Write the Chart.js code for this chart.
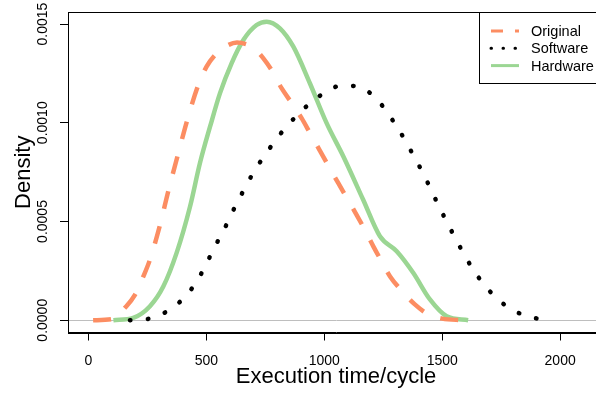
<!DOCTYPE html>
<html>
<head>
<meta charset="utf-8">
<script src="https://cdn.jsdelivr.net/npm/chart.js@4.4.1/dist/chart.umd.min.js"></script>
<style>
  html, body { margin: 0; padding: 0; background: #fff; overflow: hidden; }
  #wrap { width: 596px; height: 394px; overflow: hidden; }
</style>
</head>
<body>
<div id="wrap"><canvas id="density" width="610" height="394"></canvas></div>
<script>
const seriesNames = ['Original', 'Software', 'Hardware'];

// execution time (cycles) and density
const originalX = [20, 106, 155, 198, 233, 261, 304, 339, 381, 417, 466, 501, 537, 580, 630, 671, 700, 741, 780, 819,
  862, 904, 943, 982, 1020, 1059, 1098, 1137, 1173, 1208, 1243, 1279, 1328, 1384, 1441, 1500, 1589];
const originalY = [0, 0.000007, 0.000063, 0.000130, 0.000222, 0.000307, 0.000484, 0.000655, 0.000845, 0.001005,
  0.001192, 0.001284, 0.001343, 0.001385, 0.001406, 0.001397, 0.001380, 0.001327, 0.001260, 0.001175,
  0.001100, 0.001023, 0.000940, 0.000858, 0.000777, 0.000695, 0.000615, 0.000534, 0.000455, 0.000374,
  0.000298, 0.000222, 0.000150, 0.000080, 0.000030, 0.000008, 0];

const softwareX = [176, 254, 326, 388, 440, 482, 517, 552, 588, 621, 657, 694, 736, 781, 828, 881, 938, 1000, 1072, 1148,
  1212, 1263, 1305, 1346, 1383, 1420, 1454, 1487, 1523, 1558, 1595, 1636, 1682, 1736, 1797, 1869, 1945];
const softwareY = [0, 0.000007, 0.000040, 0.000093, 0.000163, 0.000243, 0.000326, 0.000408, 0.000490, 0.000573,
  0.000655, 0.000736, 0.000815, 0.000891, 0.000964, 0.001033, 0.001097, 0.001151, 0.001188, 0.001183,
  0.001131, 0.001060, 0.000984, 0.000905, 0.000823, 0.000742, 0.000657, 0.000575, 0.000490, 0.000410,
  0.000329, 0.000248, 0.000174, 0.000106, 0.000053, 0.000017, 0.000002];

const hardwareX = [106, 190, 261, 318, 374, 431, 473, 516, 558, 607, 657, 713, 756, 812, 869, 939, 1010, 1081, 1165, 1236,
  1307, 1377, 1448, 1519, 1610];
const hardwareY = [0, 0.000012, 0.000071, 0.000172, 0.000341, 0.000576, 0.000796, 0.000981, 0.001150, 0.001301,
  0.001419, 0.001495, 0.001512, 0.001478, 0.001385, 0.001200, 0.000998, 0.000829, 0.000610, 0.000425,
  0.000349, 0.000240, 0.000105, 0.000020, 0];

const xTicks = [0, 500, 1000, 1500, 2000];
const xTickLabels = ['0', '500', '1000', '1500', '2000'];
const yTicks = [0, 0.0005, 0.0010, 0.0015];
const yTickLabels = ['0.0000', '0.0005', '0.0010', '0.0015'];

const toPoints = (xs, ys) => xs.map((x, i) => ({ x: x, y: ys[i] }));

Chart.defaults.font.family = '"Liberation Sans", Arial, sans-serif';
Chart.defaults.color = '#000';

// R style box plus the legend in the top right corner
const boxAndLegend = {
  id: 'boxAndLegend',
  afterDraw(chart) {
    const { ctx, chartArea } = chart;
    ctx.save();
    ctx.strokeStyle = '#000';
    ctx.lineWidth = 1;
    ctx.setLineDash([]);
    ctx.strokeRect(Math.round(chartArea.left) + 0.5, Math.round(chartArea.top) + 0.5,
      Math.round(chartArea.right - chartArea.left), Math.round(chartArea.bottom - chartArea.top));

    const right = Math.round(chartArea.right);
    const top = Math.round(chartArea.top);
    const left = right - 125;
    ctx.fillStyle = '#fff';
    ctx.fillRect(left, top, 125, 71);
    ctx.strokeRect(left + 0.5, top + 0.5, 125, 71);

    const legendDash = [[12, 12], [0.5, 11.5], []];
    const legendCap = ['butt', 'round', 'butt'];
    chart.data.datasets.forEach((ds, i) => {
      const y = top + 19 + i * 17.3;
      ctx.beginPath();
      ctx.setLineDash(legendDash[i]);
      ctx.lineCap = legendCap[i];
      ctx.lineWidth = 3;
      ctx.strokeStyle = ds.borderColor;
      ctx.moveTo(left + 12, y);
      ctx.lineTo(left + 40, y);
      ctx.stroke();
      ctx.setLineDash([]);
      ctx.fillStyle = '#000';
      ctx.font = '14.5px "Liberation Sans", Arial, sans-serif';
      ctx.textBaseline = 'alphabetic';
      ctx.textAlign = 'left';
      ctx.fillText(ds.label, left + 52, y + 5);
    });
    ctx.restore();
  }
};

const chart = new Chart(document.getElementById('density'), {
  type: 'line',
  data: {
    datasets: [
      {
        label: seriesNames[0],
        data: toPoints(originalX, originalY),
        borderColor: '#FC8D62',
        borderWidth: 4.5,
        borderDash: [18, 18],
        pointRadius: 0,
        cubicInterpolationMode: 'monotone',
        fill: false
      },
      {
        label: seriesNames[1],
        data: toPoints(softwareX, softwareY),
        borderColor: '#000000',
        borderWidth: 4.5,
        borderDash: [0.5, 17.5],
        borderCapStyle: 'round',
        pointRadius: 0,
        cubicInterpolationMode: 'monotone',
        fill: false
      },
      {
        label: seriesNames[2],
        data: toPoints(hardwareX, hardwareY),
        borderColor: '#9BD693',
        borderWidth: 4.5,
        pointRadius: 0,
        cubicInterpolationMode: 'monotone',
        fill: false
      }
    ]
  },
  options: {
    responsive: false,
    animation: false,
    devicePixelRatio: 1,
    layout: {
      padding: { top: 12, right: 6, left: 0, bottom: 0 }
    },
    scales: {
      x: {
        type: 'linear',
        min: -86.5,
        max: 2186,
        afterFit: (scale) => { scale.height = 61.5; },
        afterBuildTicks: (scale) => { scale.ticks = xTicks.map((v) => ({ value: v })); },
        ticks: {
          font: { size: 14 },
          padding: 12,
          maxRotation: 0,
          autoSkip: false,
          callback: (value, index) => xTickLabels[index]
        },
        grid: {
          drawOnChartArea: false,
          tickLength: 8,
          tickColor: '#000'
        },
        border: { display: true, color: '#000', width: 1 },
        title: {
          display: true,
          text: 'Execution time/cycle',
          font: { size: 22 },
          padding: { top: 0, bottom: 4 }
        }
      },
      y: {
        min: -0.0000622,
        max: 0.0015608,
        afterFit: (scale) => { scale.width = 68; },
        afterBuildTicks: (scale) => { scale.ticks = yTicks.map((v) => ({ value: v })); },
        ticks: {
          font: { size: 14 },
          minRotation: 90,
          maxRotation: 90,
          crossAlign: 'center',
          padding: -4.4,
          autoSkip: false,
          callback: (value, index) => yTickLabels[index]
        },
        grid: {
          drawOnChartArea: true,
          tickLength: 8,
          tickColor: '#000',
          color: (c) => (c.tick && Math.abs(c.tick.value) < 1e-12 ? '#BEBEBE' : 'rgba(0,0,0,0)')
        },
        border: { display: true, color: '#000', width: 1 },
        title: {
          display: true,
          text: 'Density',
          font: { size: 22 },
          padding: { top: 11, bottom: 0 }
        }
      }
    },
    plugins: {
      legend: { display: false },
      tooltip: { enabled: false }
    }
  },
  plugins: [boxAndLegend]
});
</script>
</body>
</html>
